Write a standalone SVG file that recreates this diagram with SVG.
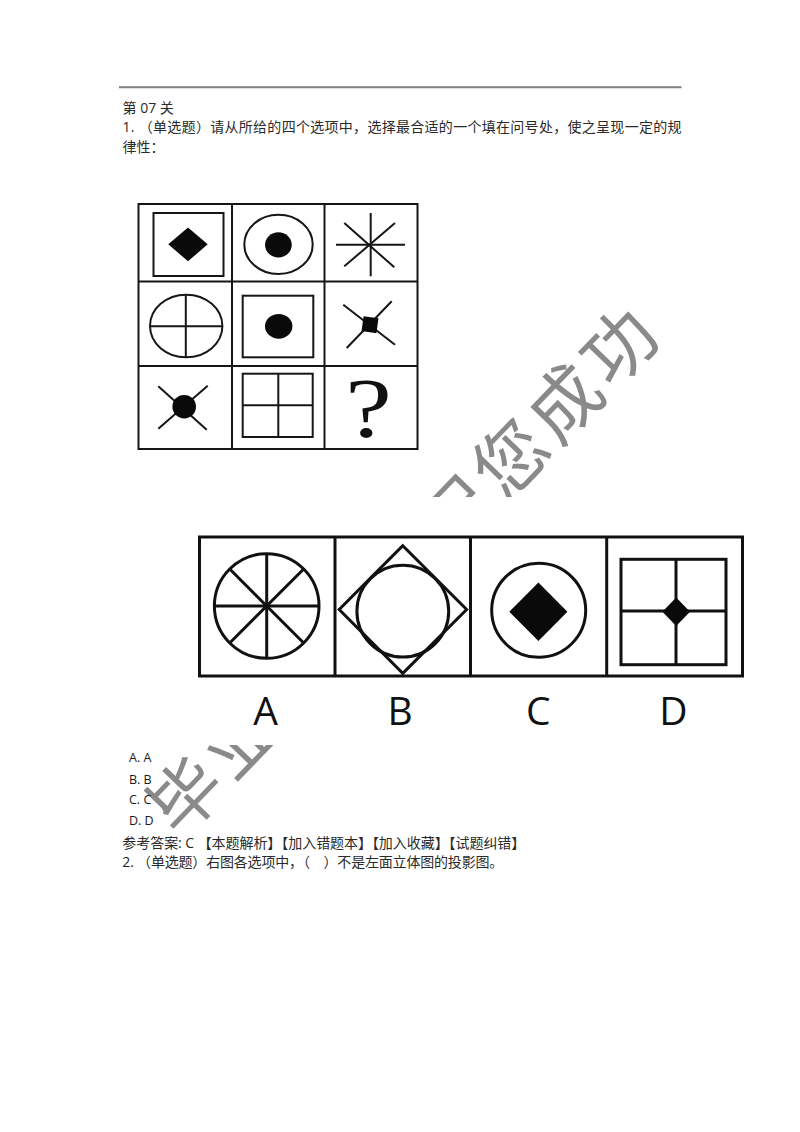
<svg xmlns="http://www.w3.org/2000/svg" width="800" height="1132" viewBox="0 0 800 1132">
<style>
.t{font-family:"Open Sans","Noto Sans CJK SC",sans-serif;font-size:14px;fill:#2a2a2a}
.opt{font-family:"Open Sans","Liberation Sans",sans-serif;font-size:12.5px;fill:#1a1a1a}
.wm{font-family:"Noto Sans CJK SC",sans-serif;font-size:72px;fill:#8a8a8a;font-weight:400;text-anchor:middle}
.g{fill:none;stroke:#161616;stroke-width:2}
.gf{fill:#0a0a0a;stroke:none}
.o{fill:none;stroke:#111;stroke-width:3}
.of{fill:#0a0a0a;stroke:none}
.lab{font-family:"Open Sans","Liberation Sans",sans-serif;font-size:39px;fill:#111;text-anchor:middle}
</style>
<rect x="0" y="0" width="800" height="1132" fill="#ffffff"/>

<g id="header">
<line x1="119" y1="87.3" x2="681.5" y2="87.3" stroke="#808080" stroke-width="2"/>
<text class="t" x="122.5" y="112.5">第 07 关</text>
<text class="t" x="122.5" y="132" textLength="559" lengthAdjust="spacing">1. （单选题）请从所给的四个选项中，选择最合适的一个填在问号处，使之呈现一定的规</text>
<text class="t" x="122.5" y="151.5">律性：</text>
</g>

<g id="watermark" transform="translate(185,795) rotate(-46)">
<text class="wm" x="0" y="27">毕</text>
<text class="wm" x="78" y="27">业</text>
<text class="wm" x="390" y="27">祝</text>
<text class="wm" x="468" y="27">您</text>
<text class="wm" x="546" y="27">成</text>
<text class="wm" x="624" y="27">功</text>
</g>

<g id="grid">
<rect x="138.5" y="204" width="279" height="245" fill="#ffffff" class="g"/>
<line class="g" x1="232" y1="204" x2="232" y2="449"/>
<line class="g" x1="324.5" y1="204" x2="324.5" y2="449"/>
<line class="g" x1="138.5" y1="281.5" x2="417.5" y2="281.5"/>
<line class="g" x1="138.5" y1="366" x2="417.5" y2="366"/>
<g id="cell11">
<rect class="g" x="153.5" y="213" width="70" height="63"/>
<polygon class="gf" points="188,227.5 207.7,244.3 188,261.3 168.3,244.3"/>
</g>
<g id="cell12">
<ellipse class="g" cx="278.5" cy="244.4" rx="34.2" ry="29.6"/>
<ellipse class="gf" cx="278.4" cy="244.8" rx="13.4" ry="12.6"/>
</g>
<g id="cell13">
<line class="g" x1="336" y1="244.7" x2="405" y2="244.7"/>
<line class="g" x1="370.7" y1="213" x2="370.7" y2="276.3"/>
<line class="g" x1="344.3" y1="223" x2="394.3" y2="267.3"/>
<line class="g" x1="344.3" y1="266.3" x2="395" y2="223"/>
</g>
<g id="cell21">
<ellipse class="g" cx="186.2" cy="326" rx="36.2" ry="31.3"/>
<line class="g" x1="150" y1="326.3" x2="222.4" y2="326.3"/>
<line class="g" x1="185.8" y1="294.7" x2="185.8" y2="357.3"/>
</g>
<g id="cell22">
<rect class="g" x="242.7" y="295.7" width="70.6" height="61.6"/>
<ellipse class="gf" cx="278.7" cy="326.3" rx="13.7" ry="12.4"/>
</g>
<g id="cell23">
<line class="g" x1="343.3" y1="304.7" x2="395" y2="344.7"/>
<line class="g" x1="346.7" y1="348" x2="391.7" y2="301.3"/>
<rect class="gf" x="362.5" y="317.2" width="15" height="15" transform="rotate(8 370 324.7)"/>
</g>
<g id="cell31">
<line class="g" x1="158.3" y1="386.3" x2="206.7" y2="429.7"/>
<line class="g" x1="158.3" y1="428.7" x2="207.7" y2="385.7"/>
<circle class="gf" cx="184.2" cy="406.7" r="11.8"/>
</g>
<g id="cell32">
<rect class="g" x="242.7" y="373.7" width="70" height="63.3"/>
<line class="g" x1="278.3" y1="373.7" x2="278.3" y2="437"/>
<line class="g" x1="242.7" y1="405.3" x2="312.7" y2="405.3"/>
</g>
<g id="cell33">
<text transform="translate(368.5,436.5) scale(1.25,1)" x="0" y="0" text-anchor="middle" font-family="'Liberation Serif',serif" font-size="84" fill="#111">?</text>
</g>
</g>

<g id="options">
<rect x="150" y="497" width="610" height="248" fill="#ffffff"/>
<rect class="o" x="199.5" y="537" width="543" height="139"/>
<line class="o" x1="335" y1="537" x2="335" y2="676"/>
<line class="o" x1="470.5" y1="537" x2="470.5" y2="676"/>
<line class="o" x1="606.7" y1="537" x2="606.7" y2="676"/>
<g id="optA">
<circle class="o" cx="266.7" cy="606" r="52.3"/>
<line class="o" x1="214.4" y1="606" x2="319" y2="606"/>
<line class="o" x1="266.7" y1="553.7" x2="266.7" y2="658.3"/>
<line class="o" x1="229.7" y1="569" x2="303.7" y2="643"/>
<line class="o" x1="229.7" y1="643" x2="303.7" y2="569"/>
</g>
<g id="optB">
<polygon class="o" points="402.8,545.7 466.6,609.5 402.8,673.3 339.2,609.5"/>
<circle class="o" cx="402.8" cy="611.2" r="45.9"/>
</g>
<g id="optC">
<circle class="o" cx="538.7" cy="610.3" r="47"/>
<polygon class="of" points="538.4,582.6 567.4,611.8 538.4,641 509.3,611.8"/>
</g>
<g id="optD">
<rect class="o" x="621" y="559.3" width="105" height="105.4"/>
<line class="o" x1="676" y1="559.3" x2="676" y2="664.7"/>
<line class="o" x1="621" y1="611" x2="726" y2="611"/>
<polygon class="of" points="676.2,597.6 690,611.8 676.2,626 662.4,611.8"/>
</g>
<text class="lab" x="265.7" y="725">A</text>
<text class="lab" x="400" y="725">B</text>
<text class="lab" x="538.3" y="725">C</text>
<text class="lab" x="673.3" y="725">D</text>
</g>

<g id="answers">
<text class="opt" x="129" y="762.3">A. A</text>
<text class="opt" x="129" y="783.5">B. B</text>
<text class="opt" x="129" y="804">C. C</text>
<text class="opt" x="129" y="824.7">D. D</text>
<text class="t" x="122.3" y="847.5" textLength="403" lengthAdjust="spacing">参考答案: C 【本题解析】【加入错题本】【加入收藏】【试题纠错】</text>
<text class="t" x="122.3" y="867" textLength="381" lengthAdjust="spacing">2. （单选题）右图各选项中，（　）不是左面立体图的投影图。</text>
</g>
</svg>
